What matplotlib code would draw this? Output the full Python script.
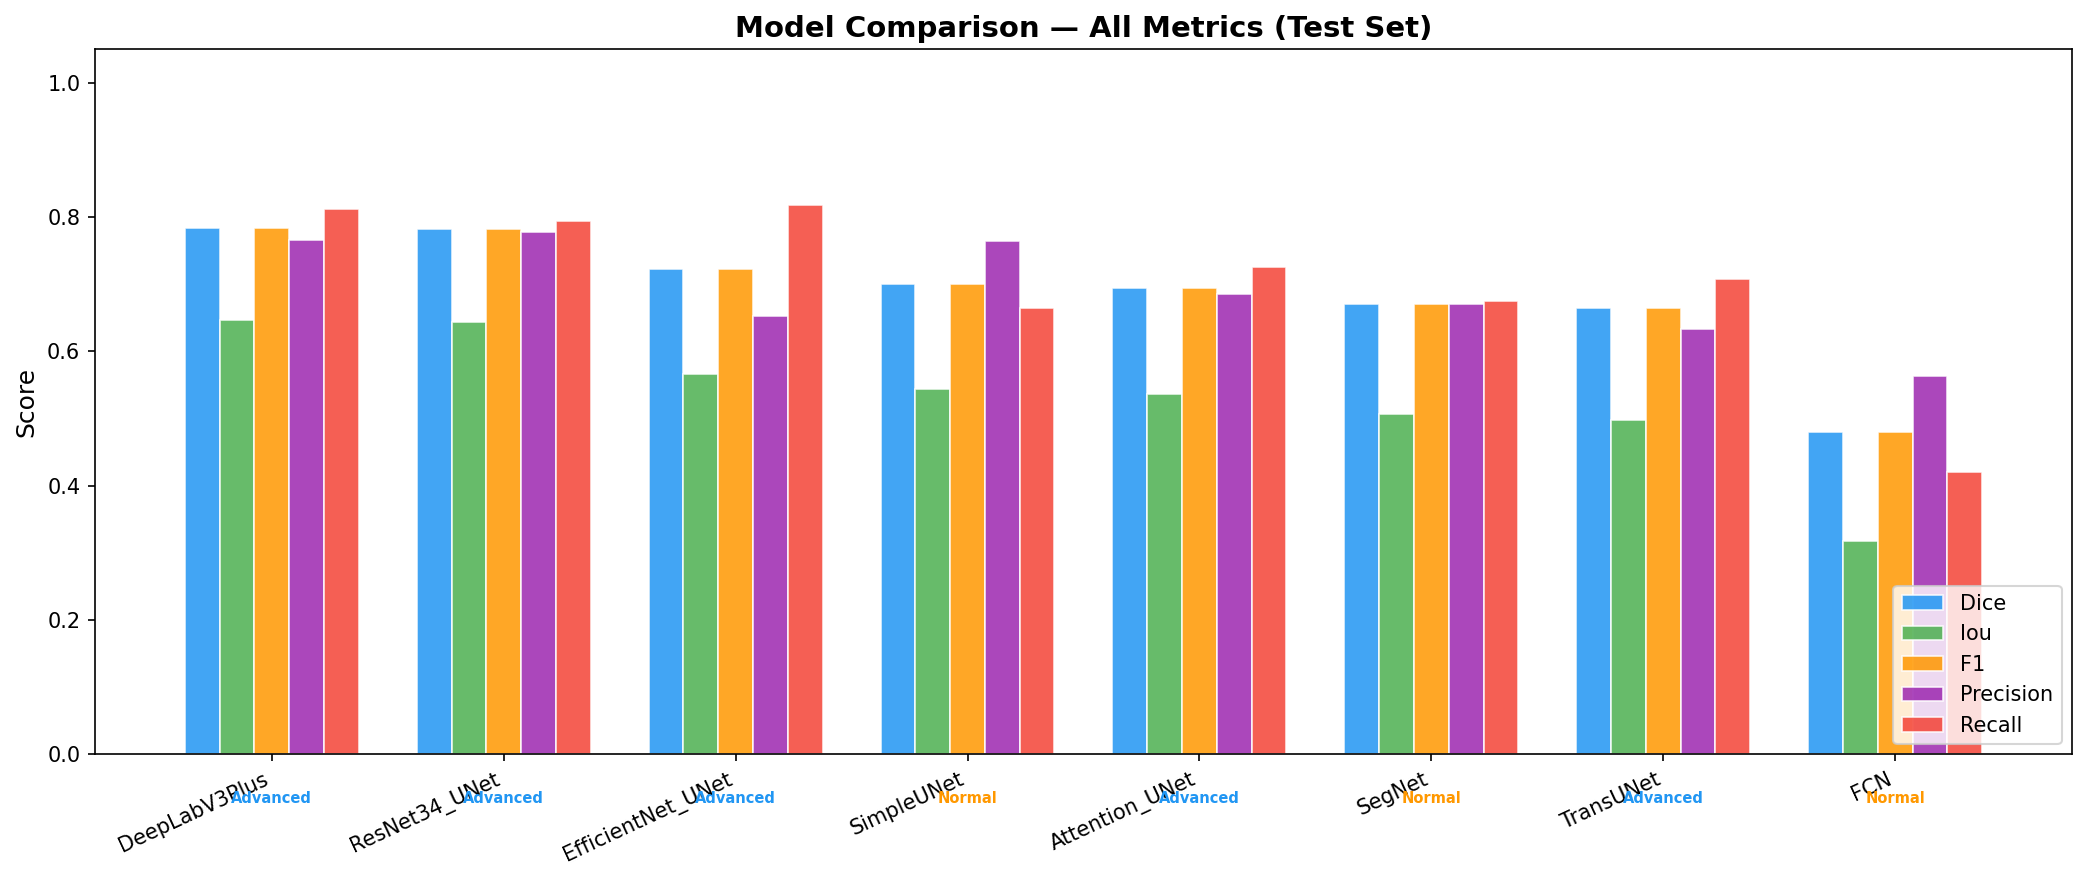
import numpy as np
import matplotlib
matplotlib.use("Agg")
import matplotlib.pyplot as plt

models = ["DeepLabV3Plus", "ResNet34_UNet", "EfficientNet_UNet", "SimpleUNet",
          "Attention_UNet", "SegNet", "TransUNet", "FCN"]
tiers = ["Advanced", "Advanced", "Advanced", "Normal",
         "Advanced", "Normal", "Advanced", "Normal"]

dice = [0.784, 0.782, 0.723, 0.701, 0.695, 0.671, 0.665, 0.480]
iou = [0.647, 0.643, 0.567, 0.544, 0.537, 0.507, 0.498, 0.317]
f1 = [0.784, 0.782, 0.723, 0.701, 0.695, 0.671, 0.665, 0.480]
precision = [0.766, 0.778, 0.653, 0.765, 0.686, 0.671, 0.634, 0.564]
recall = [0.812, 0.794, 0.818, 0.665, 0.726, 0.675, 0.707, 0.421]

metric_names = ["Dice", "Iou", "F1", "Precision", "Recall"]
metric_vals = [dice, iou, f1, precision, recall]
colors = ["#2196F3", "#4CAF50", "#FF9800", "#9C27B0", "#F44336"]
tier_colors = {"Advanced": "#2196F3", "Normal": "#FF9800"}

fig, ax = plt.subplots(figsize=(13.88, 5.88), dpi=150)
fig.subplots_adjust(left=0.0456, right=0.9952, bottom=0.1446, top=0.9444)

x = np.arange(len(models))
width = 0.15
for i, (name, vals, c) in enumerate(zip(metric_names, metric_vals, colors)):
    ax.bar(x + (i - 2) * width, vals, width, label=name, color=c,
           edgecolor="white", linewidth=0.8, alpha=0.85)

ax.set_xticks(x)
ax.set_xticklabels(models, rotation=25, ha="right", fontsize=10)
ax.set_ylim(0, 1.05)
ax.set_ylabel("Score", fontsize=12)
ax.set_title("Model Comparison \u2014 All Metrics (Test Set)", fontsize=14, fontweight="bold")
ax.legend(loc="lower right", fontsize=10)

for xi, t in zip(x, tiers):
    ax.text(xi, -0.065, t, ha="center", va="center", fontsize=7,
            fontweight="bold", color=tier_colors[t], clip_on=False)

fig.savefig("out.png", dpi=150)
